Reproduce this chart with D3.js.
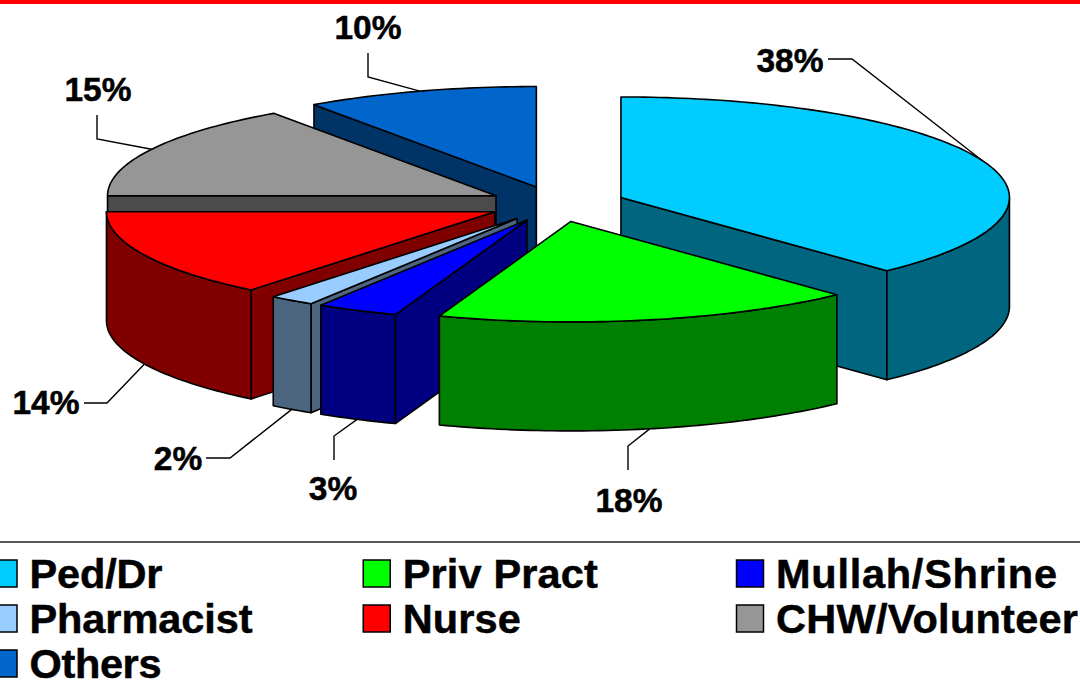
<!DOCTYPE html>
<html>
<head>
<meta charset="utf-8">
<script src="https://d3js.org/d3.v7.min.js"></script>
<style>
  html, body { margin: 0; padding: 0; background: #fff; overflow: hidden; }
  text { font-family: "Liberation Sans", Arial, sans-serif; font-weight: bold; fill: #000; stroke: #000; stroke-width: 0.5px; }
</style>
</head>
<body>
<div id="chart"></div>
<script>
// data ---------------------------------------------------------------
const categories = ['Ped/Dr', 'Priv Pract', 'Mullah/Shrine', 'Pharmacist', 'Nurse', 'CHW/Volunteer', 'Others'];
const shares = [38, 17.5, 3.4, 1.9, 14.2, 15.3, 9.7];
const topColors = ['#00CCFF', '#00FF00', '#0000FF', '#99CCFF', '#FF0000', '#969696', '#0066CC'];
const wallColors = ['#006680', '#008000', '#000080', '#4D6680', '#800000', '#4B4B4B', '#003366'];

// layout -------------------------------------------------------------
const width = 1080;
const height = 689;
const depth = 109;
const explode = 0.177;
// label position and leader elbow, one per slice
const labelSpots = [
  { x: 790, y: 72, from: [828, 59], elbow: [852, 59] },
  { x: 629, y: 512, from: [628, 470], elbow: [628, 446] },
  { x: 333, y: 500, from: [334, 460], elbow: [334, 436] },
  { x: 178, y: 470, from: [206, 458], elbow: [230, 458] },
  { x: 46, y: 414, from: [84, 403], elbow: [107, 403] },
  { x: 98, y: 101, from: [97, 115], elbow: [97, 139] },
  { x: 368, y: 39, from: [368, 53], elbow: [368, 77] }
];
// legend text runs a little wider in some entries, last column has to stay inside the page
const legendWidths = [133, 195, 281, 223, 118, 302, 132];

const svg = d3.select('#chart').append('svg')
  .attr('width', width)
  .attr('height', height)
  .style('display', 'block');

// pie plane to screen
const xScale = d3.scaleLinear().domain([-1, 1]).range([168.5, 945.5]);
const yScale = d3.scaleLinear().domain([-1, 1]).range([103.5, 304.5]);

const pie = d3.pie().sort(null).value(d => d.share);
const slices = pie(categories.map((name, i) => ({
  name: name,
  share: shares[i],
  top: topColors[i],
  wall: wallColors[i],
  spot: labelSpots[i],
  textWidth: legendWidths[i]
})));

const line = d3.line().x(d => d[0]).y(d => d[1]);

function rimPoint(s, angle, drop) {
  const mid = (s.startAngle + s.endAngle) / 2;
  return [
    xScale(Math.sin(angle) + explode * Math.sin(mid)),
    yScale(-Math.cos(angle) - explode * Math.cos(mid)) + drop
  ];
}
function apex(s, drop) {
  const mid = (s.startAngle + s.endAngle) / 2;
  return [xScale(explode * Math.sin(mid)), yScale(-explode * Math.cos(mid)) + drop];
}
function rimArc(s, a0, a1, drop) {
  const n = Math.max(2, Math.ceil((a1 - a0) / 0.02));
  return d3.range(n + 1).map(k => rimPoint(s, a0 + (a1 - a0) * k / n, drop));
}

// top bar and rule -----------------------------------------------------
svg.append('rect').attr('x', 0).attr('y', 0).attr('width', width).attr('height', 4).attr('fill', '#FF0000');
svg.append('line')
  .attr('x1', 0).attr('x2', width).attr('y1', 542).attr('y2', 542)
  .attr('stroke', '#222').attr('stroke-width', 1.4);

// slices, back to front ------------------------------------------------
const order = slices.slice().sort((a, b) =>
  Math.cos((b.startAngle + b.endAngle) / 2) - Math.cos((a.startAngle + a.endAngle) / 2));

const sliceG = svg.selectAll('g.slice')
  .data(order)
  .enter()
  .append('g')
  .attr('class', 'slice')
  .attr('stroke', '#000')
  .attr('stroke-width', 1.6)
  .attr('stroke-linejoin', 'round');

sliceG.each(function(s) {
  const g = d3.select(this);
  // cut walls
  if (Math.sin(s.startAngle) < -1e-6) {
    g.append('path').attr('fill', s.data.wall).attr('d', line([
      apex(s, 0), rimPoint(s, s.startAngle, 0), rimPoint(s, s.startAngle, depth), apex(s, depth)
    ]) + 'Z');
  }
  if (Math.sin(s.endAngle) > 1e-6) {
    g.append('path').attr('fill', s.data.wall).attr('d', line([
      apex(s, 0), rimPoint(s, s.endAngle, 0), rimPoint(s, s.endAngle, depth), apex(s, depth)
    ]) + 'Z');
  }
  // outer wall, only the part of the rim that faces the viewer
  const a0 = Math.max(s.startAngle, Math.PI / 2);
  const a1 = Math.min(s.endAngle, Math.PI * 1.5);
  if (a1 > a0) {
    const upper = rimArc(s, a0, a1, 0);
    const lower = rimArc(s, a0, a1, depth).reverse();
    g.append('path').attr('fill', s.data.wall).attr('d', line(upper.concat(lower)) + 'Z');
  }
  // top face
  g.append('path').attr('fill', s.data.top)
    .attr('d', line([apex(s, 0)].concat(rimArc(s, s.startAngle, s.endAngle, 0))) + 'Z');
});

// leaders and labels ---------------------------------------------------
slices.forEach(s => {
  const mid = (s.startAngle + s.endAngle) / 2;
  const end = rimPoint(s, mid, Math.cos(mid) < 0 ? depth : 0);
  svg.append('path')
    .attr('fill', 'none')
    .attr('stroke', '#000')
    .attr('stroke-width', 1.4)
    .attr('d', line([s.data.spot.from, s.data.spot.elbow, end]));
  svg.append('text')
    .attr('x', s.data.spot.x)
    .attr('y', s.data.spot.y)
    .attr('text-anchor', 'middle')
    .attr('font-size', 33.5)
    .text(Math.round(s.data.share) + '%');
});

// legend ---------------------------------------------------------------
const legendX = d3.scalePoint().domain([0, 1, 2]).range([-10, 736.5]);
const legendY = d3.scalePoint().domain([0, 1, 2]).range([560, 650]);
const legend = svg.selectAll('g.legend')
  .data(slices)
  .enter()
  .append('g')
  .attr('class', 'legend')
  .attr('transform', (d, i) => 'translate(' + legendX(i % 3) + ',' + legendY(Math.floor(i / 3)) + ')');
legend.append('rect')
  .attr('width', 27)
  .attr('height', 27)
  .attr('fill', d => d.data.top)
  .attr('stroke', '#000')
  .attr('stroke-width', 1.5);
legend.append('text')
  .attr('x', 39.5)
  .attr('y', 28)
  .attr('font-size', 41.5)
  .attr('textLength', d => d.data.textWidth)
  .attr('lengthAdjust', 'spacing')
  .text(d => d.data.name);
</script>
</body>
</html>
